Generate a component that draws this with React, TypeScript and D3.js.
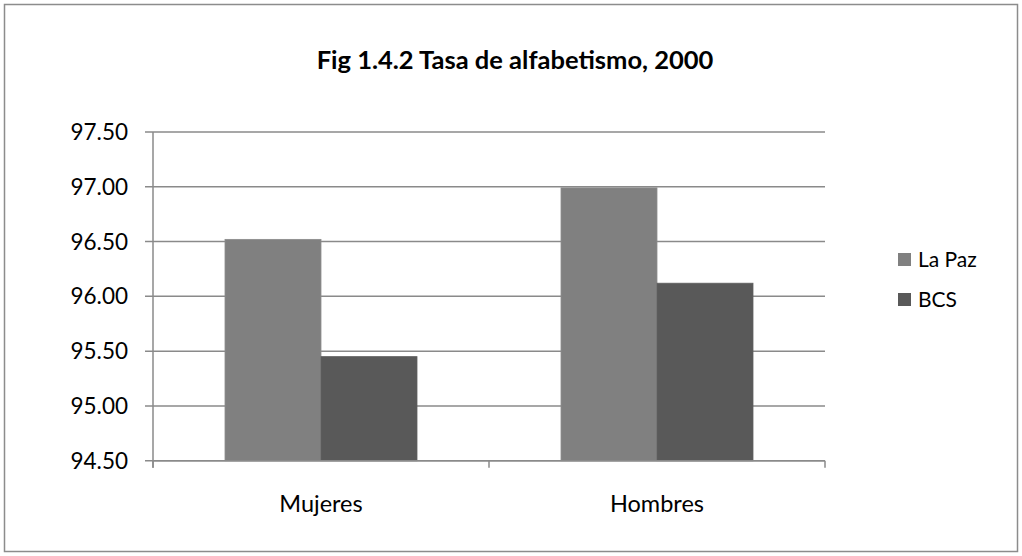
import React from "react";
import * as d3 from "d3";

const categories = ["Mujeres", "Hombres"];
const seriesNames = ["La Paz", "BCS"];
const laPaz = [96.52, 96.99];
const bcs = [95.45, 96.12];
const yTicks = [94.5, 95.0, 95.5, 96.0, 96.5, 97.0, 97.5];
const colors = ["#808080", "#595959"];

const W = 1022;
const H = 556;
const plot = { left: 153, right: 825, top: 132, bottom: 460.7 };
const FONT = "Lato, 'Open Sans', sans-serif";

export default function App() {
  const x = d3.scaleBand<string>().domain(categories).range([plot.left, plot.right]).paddingInner(0).paddingOuter(0);
  const y = d3.scaleLinear().domain([94.5, 97.5]).range([plot.bottom, plot.top]);
  const groupFrac = 2 / 3.5;
  const inner = d3
    .scaleBand<string>()
    .domain(seriesNames)
    .range([0, x.bandwidth() * groupFrac]);
  const offset = (x.bandwidth() * (1 - groupFrac)) / 2;
  const series = [laPaz, bcs];
  const gridColor = "#8a8a8a";

  return (
    <svg
      width={W}
      height={H}
      style={{ position: "absolute", left: 0, top: 0, background: "#fff" }}
    >
      <rect x={0} y={0} width={W} height={H} fill="#fff" />
      <rect x={4.5} y={4.5} width={1013} height={547} fill="#fff" stroke="#8c8c8c" strokeWidth={1.5} />
      <text
        x={515}
        y={69}
        textAnchor="middle"
        fontFamily={FONT}
        fontWeight="bold"
        fontSize={25.5}
        fill="#000"
      >
        Fig 1.4.2 Tasa de alfabetismo, 2000
      </text>
      {yTicks.map((t) => (
        <g key={t}>
          <line x1={plot.left - 8} x2={plot.right} y1={y(t)} y2={y(t)} stroke={gridColor} strokeWidth={1.5} />
          <text
            x={128}
            y={y(t)}
            dy="0.36em"
            textAnchor="end"
            fontFamily={FONT}
            fontSize={22.5}
            fill="#000"
          >
            {d3.format(".2f")(t)}
          </text>
        </g>
      ))}
      {categories.map((c, i) =>
        series.map((s, j) => (
          <rect
            key={c + j}
            x={(x(c) as number) + offset + (inner(seriesNames[j]) as number)}
            y={y(s[i])}
            width={inner.bandwidth()}
            height={plot.bottom - y(s[i])}
            fill={colors[j]}
            stroke={j === 0 ? "#8c8c8c" : "#606060"}
            strokeWidth={0.8}
          />
        ))
      )}
      <line x1={plot.left} x2={plot.left} y1={plot.top} y2={plot.bottom + 7} stroke={gridColor} strokeWidth={1.5} />
      <line x1={plot.left} x2={plot.right} y1={plot.bottom} y2={plot.bottom} stroke={gridColor} strokeWidth={1.5} />
      {[...categories.map((c) => x(c) as number), plot.right].map((px, i) => (
        <line key={i} x1={px} x2={px} y1={plot.bottom} y2={plot.bottom + 7} stroke={gridColor} strokeWidth={1.5} />
      ))}
      {categories.map((c) => (
        <text
          key={c}
          x={(x(c) as number) + x.bandwidth() / 2}
          y={512}
          textAnchor="middle"
          fontFamily={FONT}
          fontSize={23.5}
          fill="#000"
        >
          {c}
        </text>
      ))}
      {seriesNames.map((n, j) => (
        <g key={n} transform={`translate(898, ${253 + j * 40})`}>
          <rect x={0} y={0} width={13} height={13} fill={colors[j]} />
          <text x={20} y={14} fontFamily={FONT} fontSize={21} fill="#000">
            {n}
          </text>
        </g>
      ))}
    </svg>
  );
}
